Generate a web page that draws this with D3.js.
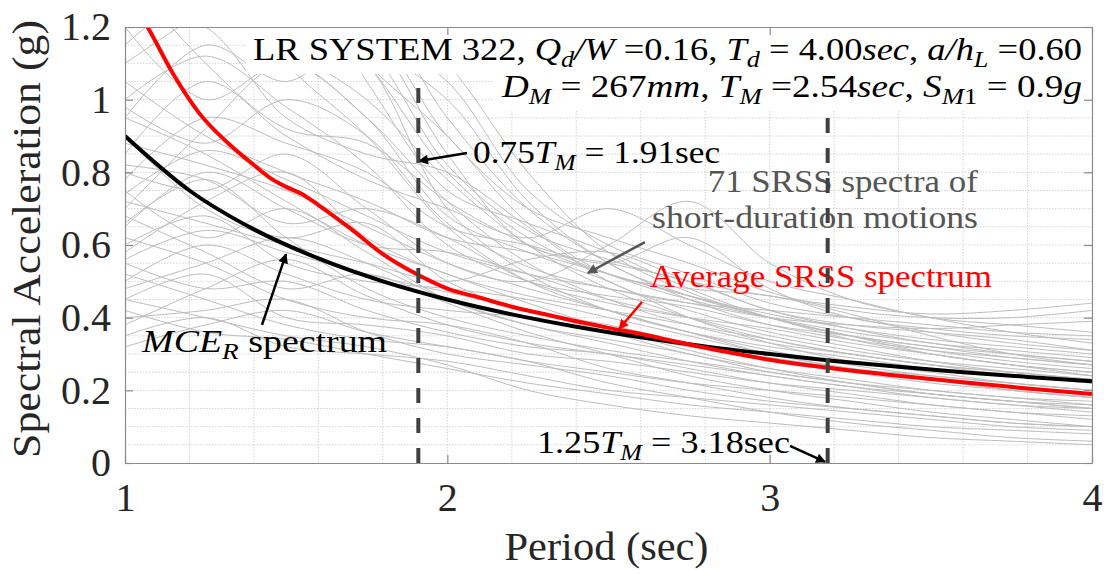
<!DOCTYPE html>
<html>
<head>
<meta charset="utf-8">
<script src="https://cdn.jsdelivr.net/npm/d3@7"></script>
<style>
	body { margin: 0; background: #ffffff; }
	svg { display: block; }
	text { font-family: "Liberation Serif", "Times New Roman", serif; }
	.tick text { font-family: "Liberation Serif", "Times New Roman", serif; }
</style>
</head>
<body>
<svg id="chart" width="1108" height="574"></svg>
<script>
//
// spectra of the 71 short-duration motions (only a subset is drawn)
//
var periods = [1, 1.25, 1.5, 1.75, 2, 2.25, 2.5, 2.75, 3, 3.25, 3.5, 3.75, 4];

var srssSpectra = [
	[1.55, 1.45, 1.30, 1.10, 0.80, 0.62, 0.52, 0.45, 0.40, 0.36, 0.33, 0.30, 0.28],
	[1.30, 1.50, 1.35, 1.20, 0.85, 0.60, 0.55, 0.50, 0.42, 0.38, 0.36, 0.34, 0.31],
	[1.10, 1.25, 1.40, 1.05, 0.75, 0.66, 0.58, 0.48, 0.40, 0.35, 0.32, 0.29, 0.27],
	[0.95, 1.15, 1.05, 1.18, 0.90, 0.70, 0.62, 0.55, 0.47, 0.42, 0.40, 0.40, 0.42],
	[1.20, 1.00, 1.10, 0.95, 0.68, 0.58, 0.50, 0.40, 0.33, 0.28, 0.25, 0.22, 0.20],
	[0.85, 1.05, 0.90, 0.78, 0.70, 0.62, 0.70, 0.60, 0.50, 0.45, 0.40, 0.38, 0.36],
	[0.70, 0.92, 1.10, 0.95, 0.72, 0.55, 0.45, 0.38, 0.33, 0.30, 0.27, 0.25, 0.23],
	[1.05, 0.90, 0.80, 0.72, 0.62, 0.58, 0.52, 0.46, 0.40, 0.34, 0.30, 0.27, 0.25],
	[0.80, 0.75, 0.85, 0.70, 0.55, 0.50, 0.60, 0.72, 0.55, 0.45, 0.40, 0.36, 0.33],
	[0.65, 0.80, 0.70, 0.60, 0.58, 0.52, 0.45, 0.40, 0.35, 0.31, 0.28, 0.26, 0.24],
	[0.90, 0.70, 0.62, 0.66, 0.50, 0.42, 0.38, 0.33, 0.28, 0.25, 0.22, 0.20, 0.18],
	[0.60, 0.68, 0.55, 0.50, 0.48, 0.45, 0.40, 0.35, 0.30, 0.26, 0.23, 0.20, 0.18],
	[0.75, 0.62, 0.70, 0.58, 0.45, 0.38, 0.34, 0.30, 0.25, 0.22, 0.19, 0.17, 0.15],
	[0.50, 0.60, 0.52, 0.45, 0.42, 0.40, 0.36, 0.32, 0.29, 0.26, 0.24, 0.22, 0.20],
	[0.55, 0.48, 0.50, 0.42, 0.36, 0.32, 0.30, 0.26, 0.22, 0.19, 0.16, 0.14, 0.12],
	[0.45, 0.52, 0.40, 0.38, 0.35, 0.30, 0.28, 0.25, 0.22, 0.20, 0.18, 0.16, 0.15],
	[0.40, 0.42, 0.45, 0.36, 0.30, 0.27, 0.24, 0.20, 0.17, 0.15, 0.13, 0.11, 0.10],
	[0.35, 0.40, 0.32, 0.30, 0.28, 0.24, 0.20, 0.18, 0.16, 0.14, 0.12, 0.10, 0.09],
	[0.62, 0.55, 0.45, 0.40, 0.38, 0.33, 0.26, 0.22, 0.18, 0.15, 0.13, 0.11, 0.10],
	[1.40, 1.30, 1.20, 1.25, 0.95, 0.70, 0.55, 0.45, 0.38, 0.34, 0.31, 0.29, 0.27],
	[1.25, 1.20, 0.95, 0.85, 0.80, 0.65, 0.50, 0.42, 0.36, 0.32, 0.28, 0.25, 0.23],
	[0.78, 0.95, 0.88, 0.80, 0.65, 0.60, 0.55, 0.62, 0.48, 0.40, 0.37, 0.35, 0.34],
	[0.58, 0.72, 0.80, 0.62, 0.52, 0.46, 0.42, 0.38, 0.34, 0.30, 0.27, 0.25, 0.23],
	[0.48, 0.55, 0.62, 0.55, 0.45, 0.38, 0.33, 0.28, 0.24, 0.21, 0.18, 0.16, 0.14],
	[0.68, 0.58, 0.48, 0.52, 0.44, 0.36, 0.30, 0.24, 0.20, 0.17, 0.14, 0.12, 0.10],
	[0.88, 0.82, 0.75, 0.65, 0.55, 0.48, 0.42, 0.36, 0.31, 0.27, 0.24, 0.22, 0.20],
	[1.00, 1.12, 0.98, 0.82, 0.60, 0.50, 0.46, 0.43, 0.38, 0.35, 0.32, 0.30, 0.28],
	[0.72, 0.66, 0.60, 0.55, 0.50, 0.56, 0.58, 0.50, 0.42, 0.37, 0.33, 0.31, 0.29],
	[0.52, 0.45, 0.38, 0.34, 0.32, 0.28, 0.25, 0.22, 0.20, 0.18, 0.16, 0.14, 0.13],
	[0.42, 0.36, 0.34, 0.30, 0.26, 0.22, 0.19, 0.16, 0.14, 0.12, 0.10, 0.09, 0.08],
	[1.60, 1.35, 1.15, 1.00, 0.78, 0.60, 0.48, 0.40, 0.34, 0.30, 0.27, 0.24, 0.22],
	[1.15, 1.30, 1.25, 1.10, 0.70, 0.52, 0.42, 0.36, 0.32, 0.29, 0.26, 0.24, 0.22],
	[0.82, 0.78, 0.66, 0.70, 0.62, 0.50, 0.44, 0.40, 0.37, 0.33, 0.30, 0.27, 0.25],
	[0.95, 0.85, 0.72, 0.60, 0.52, 0.44, 0.37, 0.31, 0.26, 0.22, 0.19, 0.17, 0.15],
	[0.66, 0.78, 0.62, 0.48, 0.40, 0.35, 0.31, 0.28, 0.25, 0.22, 0.20, 0.18, 0.17],
	[0.38, 0.48, 0.56, 0.46, 0.38, 0.33, 0.30, 0.27, 0.24, 0.21, 0.19, 0.17, 0.16],
	[1.35, 1.10, 0.92, 0.88, 0.72, 0.60, 0.52, 0.46, 0.41, 0.37, 0.34, 0.32, 0.30],
	[0.74, 0.86, 0.78, 0.68, 0.58, 0.52, 0.48, 0.44, 0.40, 0.38, 0.37, 0.38, 0.39],
	[0.56, 0.64, 0.58, 0.52, 0.47, 0.42, 0.36, 0.30, 0.26, 0.23, 0.20, 0.18, 0.16],
	[0.98, 0.88, 1.00, 0.90, 0.66, 0.54, 0.48, 0.44, 0.42, 0.40, 0.38, 0.36, 0.35],
	[2.00, 1.60, 1.25, 1.15, 1.00, 0.72, 0.55, 0.46, 0.40, 0.35, 0.31, 0.28, 0.26],
	[1.80, 1.40, 1.10, 0.90, 0.65, 0.50, 0.42, 0.36, 0.30, 0.26, 0.23, 0.20, 0.18],
	[1.70, 1.55, 1.45, 1.20, 1.05, 0.75, 0.60, 0.52, 0.44, 0.40, 0.36, 0.33, 0.31],
	[1.45, 1.20, 1.30, 1.15, 0.82, 0.64, 0.56, 0.50, 0.46, 0.43, 0.41, 0.42, 0.44],
	[0.32, 0.38, 0.42, 0.36, 0.32, 0.28, 0.22, 0.18, 0.14, 0.11, 0.09, 0.07, 0.06],
	[0.45, 0.40, 0.35, 0.32, 0.27, 0.20, 0.16, 0.13, 0.11, 0.09, 0.07, 0.06, 0.05],
	[1.90, 1.65, 1.35, 1.10, 0.90, 0.66, 0.52, 0.48, 0.46, 0.41, 0.35, 0.30, 0.27],
	[1.50, 1.70, 1.40, 1.30, 1.10, 0.80, 0.58, 0.47, 0.40, 0.35, 0.30, 0.27, 0.24]
];

// MCE_R design spectrum
var mcePeriods = [1.0, 1.2, 1.4, 1.6, 1.8, 2.0, 2.2, 2.4, 2.6, 2.8, 3.0, 3.2, 3.4, 3.6, 3.8, 4.0];
var mceValues  = [0.900, 0.750, 0.643, 0.563, 0.500, 0.450, 0.409, 0.375, 0.346, 0.321, 0.300, 0.281, 0.265, 0.250, 0.237, 0.225];

// average SRSS spectrum
var avgPeriods = [1.0, 1.07, 1.15, 1.23, 1.32, 1.4, 1.45, 1.5, 1.55, 1.6, 1.7, 1.8, 1.9, 2.0, 2.1, 2.2, 2.3, 2.4, 2.5, 2.6, 2.7, 2.8, 2.9, 3.0, 3.2, 3.4, 3.6, 3.8, 4.0];
var avgValues  = [1.30, 1.20, 1.07, 0.963, 0.88, 0.82, 0.785, 0.76, 0.74, 0.71, 0.645, 0.575, 0.522, 0.48, 0.455, 0.43, 0.41, 0.39, 0.372, 0.355, 0.336, 0.317, 0.30, 0.284, 0.26, 0.24, 0.222, 0.205, 0.19];

// 0.75 T_M and 1.25 T_M
var markPeriods = [1.91, 3.18];

var xTicks = [1, 2, 3, 4];
var xTickLabels = ["1", "2", "3", "4"];
var yTicks = [0, 0.2, 0.4, 0.6, 0.8, 1.0, 1.2];
var yTickLabels = ["0", "0.2", "0.4", "0.6", "0.8", "1", "1.2"];

//
//
//

var svg = d3.select("#chart");

var plotLeft = 125, plotRight = 1092, plotTop = 27, plotBottom = 463;

var xScale = d3.scaleLinear().domain([1, 4]).range([plotLeft, plotRight]);
var yScale = d3.scaleLinear().domain([0, 1.2]).range([plotBottom, plotTop]);

var defs = svg.append("defs");
defs.append("clipPath").attr("id", "plotclip")
	.append("rect")
		.attr("x", plotLeft).attr("y", plotTop)
		.attr("width", plotRight - plotLeft).attr("height", plotBottom - plotTop);

function add_marker(id, colour)
{
	defs.append("marker")
		.attr("id", id)
		.attr("viewBox", "0 0 10 10")
		.attr("refX", 9).attr("refY", 5)
		.attr("markerWidth", 13).attr("markerHeight", 10)
		.attr("markerUnits", "userSpaceOnUse")
		.attr("orient", "auto")
		.append("path")
			.attr("d", "M0,0 L10,5 L0,10 z")
			.attr("fill", colour);
}
add_marker("headBlack", "#000000");
add_marker("headGray", "#555555");
add_marker("headRed", "#ff0000");

svg.append("rect")
	.attr("x", plotLeft).attr("y", plotTop)
	.attr("width", plotRight - plotLeft).attr("height", plotBottom - plotTop)
	.attr("fill", "#ffffff");

// minor grid, dotted
var gGrid = svg.append("g").attr("class", "grid");
gGrid.selectAll("line.vx")
	.data(d3.range(1.2, 3.99, 0.2))
	.enter()
	.append("line")
		.attr("x1", d => xScale(d)).attr("x2", d => xScale(d))
		.attr("y1", plotTop).attr("y2", plotBottom)
		.attr("stroke", "#d4d4d4").attr("stroke-width", 1)
		.attr("stroke-dasharray", "1.5,1.5");
gGrid.selectAll("line.hy")
	.data(d3.range(0.05, 1.19, 0.05))
	.enter()
	.append("line")
		.attr("x1", plotLeft).attr("x2", plotRight)
		.attr("y1", d => yScale(d)).attr("y2", d => yScale(d))
		.attr("stroke", "#d4d4d4").attr("stroke-width", 1)
		.attr("stroke-dasharray", "1.5,1.5");

var gPlot = svg.append("g").attr("clip-path", "url(#plotclip)");

var srssLine = d3.line()
	.x((d, i) => xScale(periods[i]))
	.y(d => yScale(d))
	.curve(d3.curveCatmullRom.alpha(0.5));

gPlot.selectAll("path.srss")
	.data(srssSpectra)
	.enter()
	.append("path")
		.attr("class", "srss")
		.attr("d", srssLine)
		.attr("fill", "none")
		.attr("stroke", "#bdbdbd")
		.attr("stroke-width", 1);

var smoothLine = d3.line()
	.x(d => xScale(d[0]))
	.y(d => yScale(d[1]))
	.curve(d3.curveMonotoneX);

gPlot.append("path")
	.datum(d3.zip(mcePeriods, mceValues))
	.attr("d", smoothLine)
	.attr("fill", "none")
	.attr("stroke", "#000000")
	.attr("stroke-width", 4);

gPlot.append("path")
	.datum(d3.zip(avgPeriods, avgValues))
	.attr("d", smoothLine)
	.attr("fill", "none")
	.attr("stroke", "#ff0000")
	.attr("stroke-width", 4);

//
// annotations
//

function rich_text(g, x, y, parts, anchor, size, colour, length)
{
	var t = g.append("text")
		.attr("x", x).attr("y", y)
		.attr("font-size", size)
		.attr("fill", colour)
		.attr("text-anchor", anchor);
	var shift = 0;
	var sub = Math.round(size * 0.22);
	parts.forEach(function(p) {
		var s = p[1] || "";
		var want = s.indexOf("s") >= 0 ? sub : 0;
		var ts = t.append("tspan").text(p[0]);
		if (want != shift) ts.attr("dy", want - shift);
		shift = want;
		if (s.indexOf("i") >= 0) ts.attr("font-style", "italic");
		if (s.indexOf("s") >= 0) ts.attr("font-size", size * 0.72);
	});
	if (length) t.attr("textLength", length).attr("lengthAdjust", "spacingAndGlyphs");
	return t;
}

function arrow(g, from, to, colour, head)
{
	g.append("line")
		.attr("x1", xScale(from[0])).attr("y1", yScale(from[1]))
		.attr("x2", xScale(to[0])).attr("y2", yScale(to[1]))
		.attr("stroke", colour)
		.attr("stroke-width", 2.5)
		.attr("marker-end", "url(#" + head + ")");
}

var gNote = svg.append("g");

rich_text(gNote, xScale(2.08), yScale(0.825),
	[["0.75"], ["T", "i"], ["M", "is"], [" = 1.91sec"]], "start", 32, "#000000", 247);
arrow(gNote, [2.061, 0.853], [1.912, 0.831], "#000000", "headBlack");

rich_text(gNote, xScale(2.808), yScale(0.746),
	[["71 SRSS spectra of"]], "start", 32, "#555555", 270);
rich_text(gNote, xScale(2.635), yScale(0.647),
	[["short-duration motions"]], "start", 32, "#555555", 326);
arrow(gNote, [2.613, 0.608], [2.436, 0.523], "#555555", "headGray");

rich_text(gNote, xScale(2.628), yScale(0.484),
	[["Average SRSS spectrum"]], "start", 32, "#ff0000", 342);
arrow(gNote, [2.604, 0.443], [2.533, 0.369], "#ff0000", "headRed");

rich_text(gNote, xScale(1.053), yScale(0.305),
	[["MCE", "i"], ["R", "is"], [" spectrum"]], "start", 32, "#000000", 245);
arrow(gNote, [1.425, 0.380], [1.4995, 0.575], "#000000", "headBlack");

rich_text(gNote, xScale(2.278), yScale(0.028),
	[["1.25"], ["T", "i"], ["M", "is"], [" = 3.18sec"]], "start", 32, "#000000", 253);
arrow(gNote, [3.063, 0.047], [3.172, 0.003], "#000000", "headBlack");

// dashed period markers, drawn over the notes
svg.append("g").attr("clip-path", "url(#plotclip)")
	.selectAll("line.mark")
	.data(markPeriods)
	.enter()
	.append("line")
		.attr("class", "mark")
		.attr("x1", d => xScale(d)).attr("x2", d => xScale(d))
		.attr("y1", yScale(0)).attr("y2", yScale(1.2))
		.attr("stroke", "#404040")
		.attr("stroke-width", 4)
		.attr("stroke-dasharray", "15,15");

// description box, white background
var gBox = svg.append("g");
gBox.append("rect")
	.attr("x", 246).attr("y", plotTop)
	.attr("width", plotRight - 246).attr("height", 47)
	.attr("fill", "#ffffff");
gBox.append("rect")
	.attr("x", 494).attr("y", plotTop + 46)
	.attr("width", plotRight - 494).attr("height", 38)
	.attr("fill", "#ffffff");

rich_text(gBox, 1082, 60,
	[["LR SYSTEM 322, "], ["Q", "i"], ["d", "is"], ["/W", "i"], [" =0.16, "],
	 ["T", "i"], ["d", "is"], [" = 4.00"], ["sec", "i"], [", "], ["a/h", "i"], ["L", "is"], [" =0.60"]],
	"end", 32, "#000000", 829);
rich_text(gBox, 1082, 97,
	[["D", "i"], ["M", "is"], [" = 267"], ["mm", "i"], [", "], ["T", "i"], ["M", "is"], [" =2.54"],
	 ["sec", "i"], [", "], ["S", "i"], ["M", "is"], ["1", "s"], [" = 0.9"], ["g", "i"]],
	"end", 32, "#000000", 580);

//
// axes
//

var axisColour = "#8a8a8a";

var xAxis = d3.axisBottom(xScale)
	.tickValues(xTicks)
	.tickFormat((d, i) => xTickLabels[i])
	.tickSizeInner(-8).tickSizeOuter(0).tickPadding(20);
var yAxis = d3.axisLeft(yScale)
	.tickValues(yTicks)
	.tickFormat((d, i) => yTickLabels[i])
	.tickSizeInner(-8).tickSizeOuter(0).tickPadding(14);

var gx = svg.append("g").attr("transform", "translate(0," + plotBottom + ")").call(xAxis);
var gy = svg.append("g").attr("transform", "translate(" + plotLeft + ",0)").call(yAxis);
var gxTop = svg.append("g").attr("transform", "translate(0," + plotTop + ")")
	.call(d3.axisTop(xScale).tickValues(xTicks).tickFormat("").tickSizeInner(-8).tickSizeOuter(0));
var gyRight = svg.append("g").attr("transform", "translate(" + plotRight + ",0)")
	.call(d3.axisRight(yScale).tickValues(yTicks).tickFormat("").tickSizeInner(-8).tickSizeOuter(0));

[gx, gy, gxTop, gyRight].forEach(function(g) {
	g.select(".domain").attr("stroke", axisColour).attr("stroke-width", 1.2);
	g.selectAll(".tick line").attr("stroke", axisColour).attr("stroke-width", 1.2);
	g.selectAll(".tick text")
		.attr("font-size", 40)
		.attr("fill", "#262626");
});

svg.append("text")
	.attr("x", (plotLeft + plotRight) / 2 - 2)
	.attr("y", 560)
	.attr("text-anchor", "middle")
	.attr("font-size", 40)
	.attr("fill", "#262626")
	.attr("textLength", 204).attr("lengthAdjust", "spacingAndGlyphs")
	.text("Period (sec)");

svg.append("text")
	.attr("transform", "translate(40," + 239 + ") rotate(-90)")
	.attr("text-anchor", "middle")
	.attr("font-size", 40)
	.attr("fill", "#262626")
	.attr("textLength", 438).attr("lengthAdjust", "spacingAndGlyphs")
	.text("Spectral Acceleration (g)");
</script>
</body>
</html>
